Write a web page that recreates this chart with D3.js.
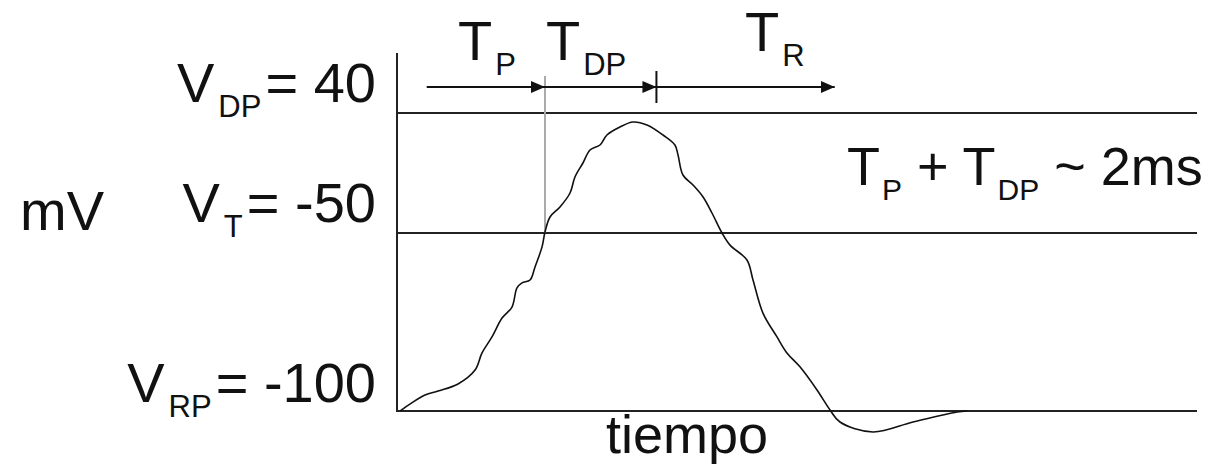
<!DOCTYPE html>
<html lang="es">
    <head>
        <meta charset="utf-8">
        <title>Potencial de acción</title>
        <script type="text/javascript" src="https://d3js.org/d3.v7.min.js"></script>
        <style>
            body {
                margin: 0;
                background: #fff;
            }
        </style>
    </head>
    <body>
        <script>
            // data: time (ms) and membrane voltage (mV)
            const timeMs = [0.03, 0.04, 0.245, 0.359, 0.534, 0.683, 0.744, 0.831, 0.919, 1.006, 1.05, 1.094,
                1.164, 1.207, 1.269, 1.295, 1.339, 1.426, 1.514, 1.557, 1.627, 1.689, 1.776, 1.837, 1.951,
                2.065, 2.187, 2.327, 2.432, 2.459, 2.502, 2.59, 2.678, 2.756, 2.844, 2.914, 3.062, 3.115,
                3.202, 3.325, 3.412, 3.526, 3.675, 3.789, 3.876, 4.165, 4.515, 4.9, 4.99];
            const voltage = [-100, -99.7, -95.5, -94.4, -92.4, -88.5, -83.7, -79.2, -73.9, -70.8, -65.4, -64,
                -63.2, -59.6, -53.9, -49.25, -38, -30.5, -20, -8, 2.5, 12.25, 16, 23.5, 29.5,
                33.25, 31, 23.5, 16, 8.5, -6.5, -14, -23, -35, -50, -53.4, -57.6, -63.2,
                -72.5, -79.2, -83.7, -87.6, -94.1, -99.7, -103.1, -105.9, -103.1, -100.3, -100];

            // reference levels (mV)
            const levels = [-100, -50, 40];
            const levelNames = ["RP", "T", "DP"];
            const levelText = ["= -100", "= -50", "= 40"];

            // phase boundaries (ms) for T_P, T_DP, T_R
            const phaseNames = ["P", "DP", "R"];
            const phaseBounds = [0.26, 1.295, 2.27, 3.83];

            const font = "'Liberation Sans', Arial, sans-serif";

            const w = 1206;
            const h = 466;
            const svg = d3.select("body")
                        .append("svg")
                        .attr("width", w)
                        .attr("height", h)
                        .style("font-family", font)

            // scales (the schematic uses uneven spacing between levels)
            const xScale = d3.scaleLinear()
                            .domain([0, 7])
                            .range([397, 1197])
            const yScale = d3.scaleLinear()
                            .domain(levels)
                            .range([411, 233, 113])

            svg.append("defs").append("marker")
                .attr("id", "head")
                .attr("viewBox", "0 0 14 12")
                .attr("refX", 14)
                .attr("refY", 6)
                .attr("markerWidth", 14)
                .attr("markerHeight", 12)
                .attr("markerUnits", "userSpaceOnUse")
                .attr("orient", "auto")
                .append("path")
                .attr("d", "M0,0 L14,6 L0,12 Z")
                .attr("fill", "#111")

            // horizontal level lines
            svg.selectAll("line.level")
                .data(levels)
                .enter()
                .append("line")
                .attr("class", "level")
                .attr("x1", xScale(0))
                .attr("x2", xScale(7))
                .attr("y1", d => yScale(d))
                .attr("y2", d => yScale(d))
                .attr("stroke", "#222")
                .attr("stroke-width", 2)

            // vertical axis
            svg.append("line")
                .attr("x1", xScale(0))
                .attr("x2", xScale(0))
                .attr("y1", yScale(-100) + 1)
                .attr("y2", 53)
                .attr("stroke", "#222")
                .attr("stroke-width", 2)

            // threshold marker (grey)
            svg.append("line")
                .attr("x1", xScale(phaseBounds[1]))
                .attr("x2", xScale(phaseBounds[1]))
                .attr("y1", yScale(-50))
                .attr("y2", 76)
                .attr("stroke", "#aaa")
                .attr("stroke-width", 2)

            // end of T_DP tick
            svg.append("line")
                .attr("x1", xScale(phaseBounds[2]))
                .attr("x2", xScale(phaseBounds[2]))
                .attr("y1", 71)
                .attr("y2", 103)
                .attr("stroke", "#111")
                .attr("stroke-width", 2)

            // phase arrows
            const arrowY = 87;
            svg.selectAll("line.phase")
                .data(phaseNames)
                .enter()
                .append("line")
                .attr("class", "phase")
                .attr("x1", (d, i) => xScale(phaseBounds[i]))
                .attr("x2", (d, i) => xScale(phaseBounds[i + 1]))
                .attr("y1", arrowY)
                .attr("y2", arrowY)
                .attr("stroke", "#111")
                .attr("stroke-width", 2)
                .attr("marker-end", "url(#head)")

            // phase labels
            const labelX = [458, 546, 745];
            const labelY = [60, 60, 51];
            const phaseLabel = svg.selectAll("text.phase")
                .data(phaseNames)
                .enter()
                .append("text")
                .attr("class", "phase")
                .attr("x", (d, i) => labelX[i])
                .attr("y", (d, i) => labelY[i])
                .attr("font-size", 56)
                .attr("fill", "#111")
            phaseLabel.append("tspan").text("T")
            phaseLabel.append("tspan")
                .attr("dx", 3)
                .attr("dy", 15)
                .attr("font-size", 31)
                .text(d => d)

            // the trace
            const line = d3.line()
                .x((d, i) => xScale(timeMs[i]))
                .y(d => yScale(d))
                .curve(d3.curveCatmullRom)

            svg.append("path")
                .datum(voltage)
                .attr("d", line)
                .attr("fill", "none")
                .attr("stroke", "#111")
                .attr("stroke-width", 1.6)

            // level labels on the left
            const levelBase = [102, 222, 402];
            const levelLab = svg.selectAll("text.level")
                .data(levels)
                .enter()
                .append("text")
                .attr("class", "level")
                .attr("x", 376)
                .attr("y", (d, i) => [402, 222, 102][i])
                .attr("font-size", 56)
                .attr("fill", "#111")
                .attr("text-anchor", "end")
            levelLab.append("tspan").text("V")
            levelLab.append("tspan")
                .attr("dx", 4)
                .attr("dy", 15)
                .attr("font-size", 31)
                .text((d, i) => levelNames[i])
            levelLab.append("tspan")
                .attr("dx", 4)
                .attr("dy", -15)
                .text((d, i) => levelText[i])

            svg.append("text")
                .attr("x", 20)
                .attr("y", 230)
                .attr("font-size", 56)
                .attr("fill", "#111")
                .text("mV")

            // duration note
            const note = svg.append("text")
                .attr("x", 847)
                .attr("y", 185)
                .attr("font-size", 54)
                .attr("fill", "#111")
            note.append("tspan").text("T")
            note.append("tspan").attr("dx", 2).attr("dy", 15).attr("font-size", 30).text("P")
            note.append("tspan").attr("dy", -15).text(" + T")
            note.append("tspan").attr("dx", 2).attr("dy", 15).attr("font-size", 30).text("DP")
            note.append("tspan").attr("dy", -15).text(" ~ 2ms")

            svg.append("text")
                .attr("x", 606)
                .attr("y", 453)
                .attr("font-size", 54)
                .attr("fill", "#111")
                .text("tiempo")

        </script>
    </body>
</html>
